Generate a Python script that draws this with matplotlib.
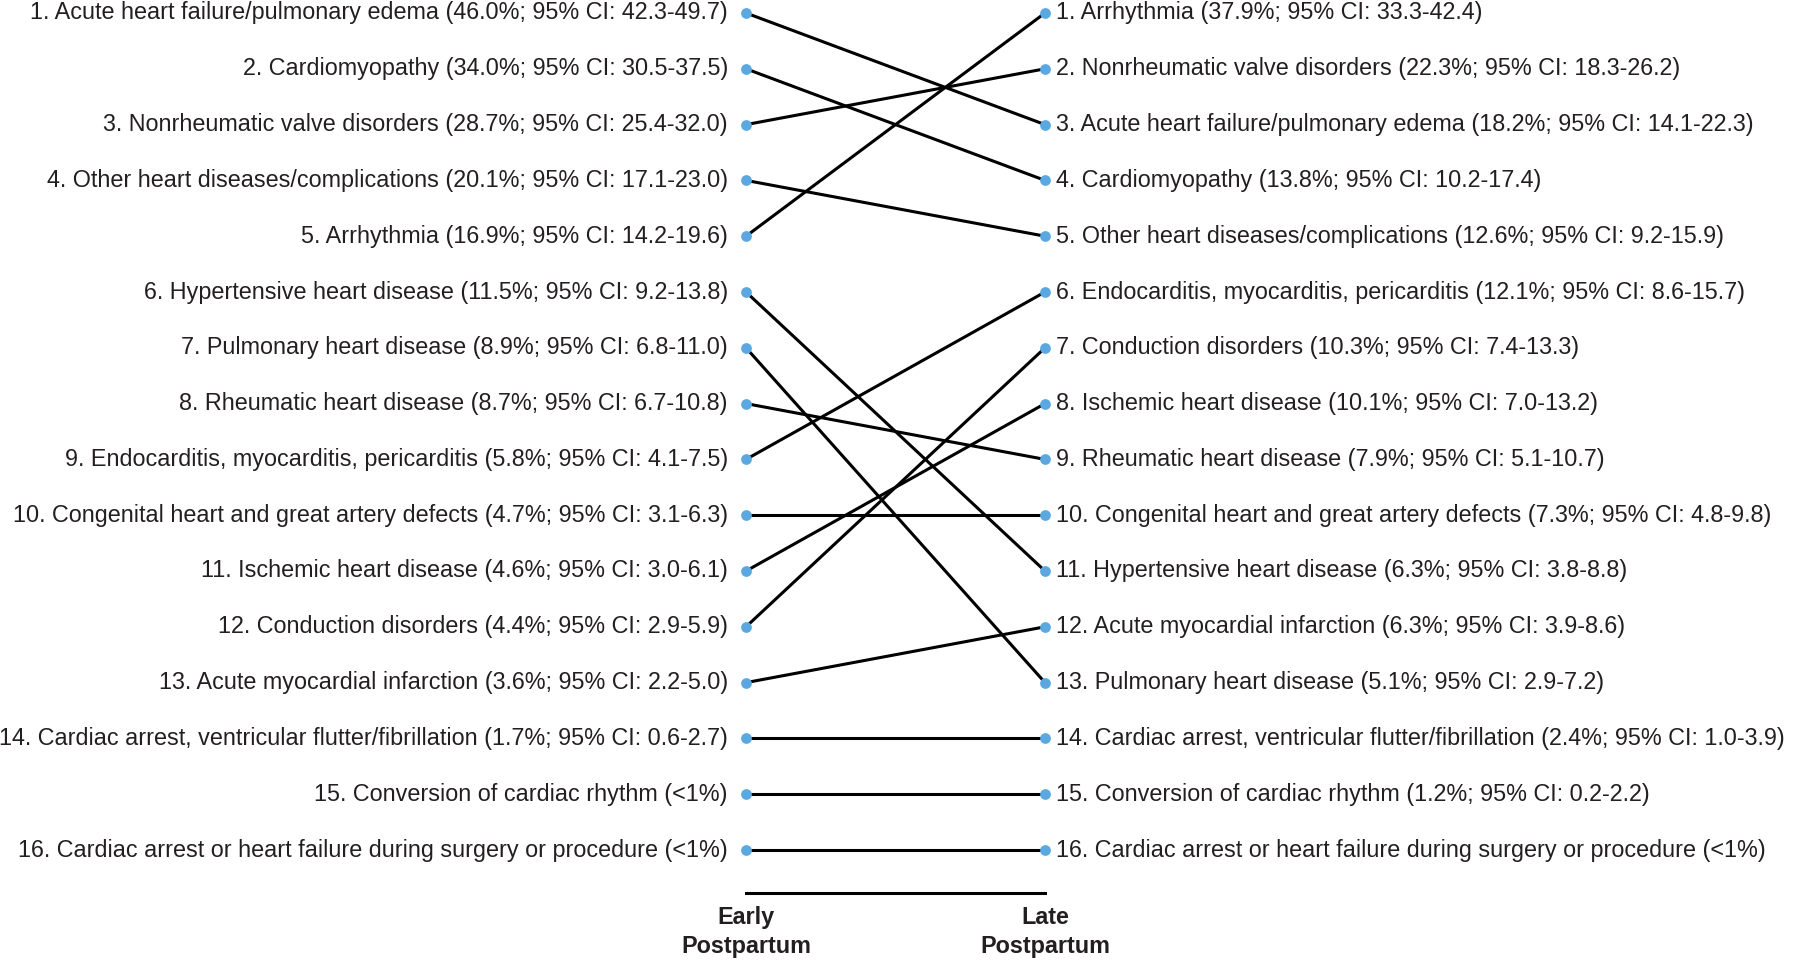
import matplotlib
matplotlib.use("Agg")
import matplotlib.pyplot as plt

early_labels = [
    "Acute heart failure/pulmonary edema (46.0%; 95% CI: 42.3-49.7)",
    "Cardiomyopathy (34.0%; 95% CI: 30.5-37.5)",
    "Nonrheumatic valve disorders (28.7%; 95% CI: 25.4-32.0)",
    "Other heart diseases/complications (20.1%; 95% CI: 17.1-23.0)",
    "Arrhythmia (16.9%; 95% CI: 14.2-19.6)",
    "Hypertensive heart disease (11.5%; 95% CI: 9.2-13.8)",
    "Pulmonary heart disease (8.9%; 95% CI: 6.8-11.0)",
    "Rheumatic heart disease (8.7%; 95% CI: 6.7-10.8)",
    "Endocarditis, myocarditis, pericarditis (5.8%; 95% CI: 4.1-7.5)",
    "Congenital heart and great artery defects (4.7%; 95% CI: 3.1-6.3)",
    "Ischemic heart disease (4.6%; 95% CI: 3.0-6.1)",
    "Conduction disorders (4.4%; 95% CI: 2.9-5.9)",
    "Acute myocardial infarction (3.6%; 95% CI: 2.2-5.0)",
    "Cardiac arrest, ventricular flutter/fibrillation (1.7%; 95% CI: 0.6-2.7)",
    "Conversion of cardiac rhythm (<1%)",
    "Cardiac arrest or heart failure during surgery or procedure (<1%)",
]
late_labels = [
    "Arrhythmia (37.9%; 95% CI: 33.3-42.4)",
    "Nonrheumatic valve disorders (22.3%; 95% CI: 18.3-26.2)",
    "Acute heart failure/pulmonary edema (18.2%; 95% CI: 14.1-22.3)",
    "Cardiomyopathy (13.8%; 95% CI: 10.2-17.4)",
    "Other heart diseases/complications (12.6%; 95% CI: 9.2-15.9)",
    "Endocarditis, myocarditis, pericarditis (12.1%; 95% CI: 8.6-15.7)",
    "Conduction disorders (10.3%; 95% CI: 7.4-13.3)",
    "Ischemic heart disease (10.1%; 95% CI: 7.0-13.2)",
    "Rheumatic heart disease (7.9%; 95% CI: 5.1-10.7)",
    "Congenital heart and great artery defects (7.3%; 95% CI: 4.8-9.8)",
    "Hypertensive heart disease (6.3%; 95% CI: 3.8-8.8)",
    "Acute myocardial infarction (6.3%; 95% CI: 3.9-8.6)",
    "Pulmonary heart disease (5.1%; 95% CI: 2.9-7.2)",
    "Cardiac arrest, ventricular flutter/fibrillation (2.4%; 95% CI: 1.0-3.9)",
    "Conversion of cardiac rhythm (1.2%; 95% CI: 0.2-2.2)",
    "Cardiac arrest or heart failure during surgery or procedure (<1%)",
]
# late-postpartum rank for each early-postpartum category (same order as early_labels)
late_rank = [3, 4, 2, 5, 1, 11, 13, 9, 6, 10, 8, 7, 12, 14, 15, 16]
early_rank = list(range(1, 17))
axis_labels = ["Early\nPostpartum", "Late\nPostpartum"]

fam = "Liberation Sans"

fig = plt.figure(figsize=(18, 9.61), dpi=100)
ax = fig.add_axes([746 / 1800, 1 - 850 / 961, 299 / 1800, 837 / 961])
ax.set_xlim(0, 1)
ax.set_ylim(16, 1)
ax.axis("off")

dot_color = "#5BA8E0"
for e, l in zip(early_rank, late_rank):
    ax.plot([0, 1], [e, l], color="black", lw=2.2, zorder=1, clip_on=False)
ax.scatter([0] * 16, early_rank, s=60, color=dot_color, zorder=3, clip_on=False, linewidths=0)
ax.scatter([1] * 16, list(range(1, 17)), s=60, color=dot_color, zorder=3, clip_on=False, linewidths=0)

fs = 16.8
for i, lab in enumerate(early_labels):
    ax.annotate(f"{i + 1}. {lab}", (0, i + 1), xytext=(-13, 0), textcoords="offset points",
                ha="right", va="center", fontsize=fs, family=fam, color="#231f20",
                annotation_clip=False)
for i, lab in enumerate(late_labels):
    ax.annotate(f"{i + 1}. {lab}", (1, i + 1), xytext=(8, 0), textcoords="offset points",
                ha="left", va="center", fontsize=fs, family=fam, color="#231f20",
                annotation_clip=False)

# bottom axis line and labels
ybar = 1 + (893 - 13) / (837 / 15)
ax.plot([0, 1], [ybar, ybar], color="black", lw=2.2, clip_on=False)
for x, lab in zip([0, 1], axis_labels):
    ax.annotate(lab, (x, ybar), xytext=(0, -9), textcoords="offset points",
                ha="center", va="top", fontsize=fs, family=fam, fontweight="bold",
                color="#231f20", linespacing=1.35, annotation_clip=False)

fig.savefig("out.png", dpi=100, facecolor="white")
